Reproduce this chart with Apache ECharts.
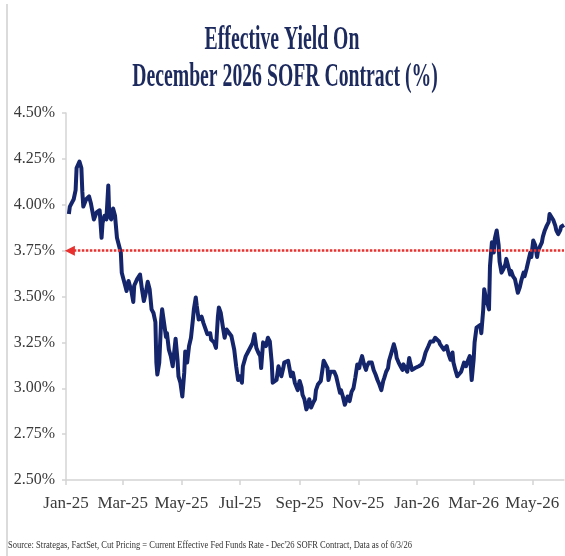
<!DOCTYPE html>
<html>
<head>
<meta charset="utf-8">
<script src="https://cdn.jsdelivr.net/npm/echarts@6/dist/echarts.min.js"></script>
<style>
  html, body { margin: 0; padding: 0; background: #ffffff; }
  #chart { width: 565px; height: 556px; }
</style>
</head>
<body>
<div id="chart"></div>
<script>
// Effective yield on the December 2026 SOFR contract, one row per month
const dates = [
  '2025-01-04','2025-01-05','2025-01-09','2025-01-11','2025-01-12','2025-01-15','2025-01-17','2025-01-18','2025-01-19','2025-01-22','2025-01-25','2025-01-27','2025-01-30','2025-01-31',
  '2025-02-02','2025-02-05','2025-02-07','2025-02-08','2025-02-10','2025-02-12','2025-02-14','2025-02-15','2025-02-17','2025-02-19','2025-02-21','2025-02-23','2025-02-25','2025-02-27','2025-02-28',
  '2025-03-02','2025-03-04','2025-03-05','2025-03-07','2025-03-10','2025-03-12','2025-03-13','2025-03-16','2025-03-19','2025-03-21','2025-03-23','2025-03-25','2025-03-27','2025-03-29','2025-03-31',
  '2025-04-02','2025-04-04','2025-04-05','2025-04-06','2025-04-08','2025-04-10','2025-04-11','2025-04-13','2025-04-15','2025-04-16','2025-04-18','2025-04-20','2025-04-22','2025-04-25','2025-04-27','2025-04-28','2025-04-30',
  '2025-05-02','2025-05-04','2025-05-05','2025-05-07','2025-05-09','2025-05-11','2025-05-13','2025-05-14','2025-05-16','2025-05-17','2025-05-19','2025-05-22','2025-05-24','2025-05-25','2025-05-28','2025-05-31',
  '2025-06-01','2025-06-04','2025-06-06','2025-06-08','2025-06-09','2025-06-11','2025-06-13','2025-06-15','2025-06-17','2025-06-19','2025-06-22','2025-06-25','2025-06-27','2025-06-29',
  '2025-07-01','2025-07-03','2025-07-04','2025-07-07','2025-07-09','2025-07-10','2025-07-11','2025-07-14','2025-07-16','2025-07-18','2025-07-20','2025-07-22','2025-07-23','2025-07-25','2025-07-27','2025-07-28','2025-07-30',
  '2025-08-01','2025-08-03','2025-08-04','2025-08-06','2025-08-08','2025-08-10','2025-08-11','2025-08-13','2025-08-15','2025-08-16','2025-08-18','2025-08-20','2025-08-22','2025-08-23','2025-08-25','2025-08-27','2025-08-29','2025-08-30',
  '2025-09-01','2025-09-03','2025-09-04','2025-09-06','2025-09-08','2025-09-10','2025-09-11','2025-09-13','2025-09-15','2025-09-17','2025-09-18','2025-09-20','2025-09-23','2025-09-25','2025-09-26','2025-09-28','2025-09-30',
  '2025-10-01','2025-10-03','2025-10-05','2025-10-07','2025-10-09','2025-10-11','2025-10-13','2025-10-14','2025-10-16','2025-10-18','2025-10-20','2025-10-21','2025-10-23','2025-10-25','2025-10-27','2025-10-29','2025-10-31',
  '2025-11-02','2025-11-03','2025-11-05','2025-11-07','2025-11-09','2025-11-10','2025-11-12','2025-11-13','2025-11-15','2025-11-17','2025-11-19','2025-11-21','2025-11-23','2025-11-25','2025-11-27','2025-11-28','2025-11-30',
  '2025-12-02','2025-12-03','2025-12-05','2025-12-07','2025-12-08','2025-12-10','2025-12-11','2025-12-13','2025-12-15','2025-12-17','2025-12-18','2025-12-20','2025-12-22','2025-12-24','2025-12-25','2025-12-27','2025-12-29','2025-12-30',
  '2026-01-01','2026-01-03','2026-01-05','2026-01-06','2026-01-08','2026-01-10','2026-01-12','2026-01-13','2026-01-15','2026-01-17','2026-01-18','2026-01-20','2026-01-22','2026-01-24','2026-01-25','2026-01-27','2026-01-29','2026-01-31',
  '2026-02-01','2026-02-03','2026-02-05','2026-02-07','2026-02-08','2026-02-10','2026-02-12','2026-02-14','2026-02-16','2026-02-18','2026-02-19','2026-02-21','2026-02-23','2026-02-25','2026-02-26','2026-02-27',
  '2026-03-01','2026-03-02','2026-03-04','2026-03-06','2026-03-08','2026-03-09','2026-03-11','2026-03-12','2026-03-14','2026-03-16','2026-03-17','2026-03-18','2026-03-20','2026-03-22','2026-03-23','2026-03-25','2026-03-27','2026-03-28','2026-03-30',
  '2026-04-01','2026-04-03','2026-04-04','2026-04-06','2026-04-08','2026-04-09','2026-04-11','2026-04-13','2026-04-15','2026-04-16','2026-04-18','2026-04-20','2026-04-22','2026-04-23','2026-04-25','2026-04-27','2026-04-29','2026-04-30',
  '2026-05-02','2026-05-04','2026-05-06','2026-05-07','2026-05-09','2026-05-11','2026-05-12','2026-05-14','2026-05-16','2026-05-18','2026-05-19','2026-05-21','2026-05-23','2026-05-25','2026-05-26','2026-05-28','2026-05-30','2026-05-31',
  '2026-06-03'
];

const yields = [
  3.95,3.99,4.03,4.08,4.20,4.235,4.20,4.07,3.99,4.03,4.045,4.005,3.92,3.91,
  3.96,3.97,3.82,3.90,3.94,3.92,4.105,3.94,3.92,3.98,3.94,3.82,3.78,3.74,3.63,
  3.59,3.55,3.53,3.585,3.53,3.47,3.56,3.595,3.62,3.54,3.475,3.52,3.58,3.54,3.43,
  3.41,3.36,3.14,3.075,3.14,3.375,3.43,3.42,3.28,3.30,3.21,3.175,3.12,3.27,3.155,3.065,3.03,
  2.955,3.085,3.20,3.14,3.23,3.275,3.375,3.43,3.495,3.45,3.375,3.39,3.355,3.34,3.295,3.30,
  3.265,3.25,3.22,3.39,3.44,3.41,3.34,3.275,3.32,3.33,3.285,3.21,3.12,3.045,
  3.065,3.03,3.12,3.175,3.195,3.185,3.20,3.245,3.295,3.22,3.195,3.175,3.11,3.25,3.255,3.23,3.275,
  3.255,3.14,3.03,3.02,3.045,3.12,3.13,3.065,3.11,3.14,3.14,3.15,3.14,3.065,3.085,3.03,3.02,2.99,
  3.04,3.005,2.965,2.94,2.885,2.91,2.94,2.895,2.92,2.94,2.99,3.02,3.04,3.11,3.15,3.13,3.11,
  3.045,3.09,3.085,3.09,3.065,3.02,2.975,2.99,2.955,2.91,2.94,2.955,2.93,2.98,3.00,3.06,3.13,
  3.11,3.14,3.175,3.13,3.10,3.12,3.14,3.15,3.14,3.10,3.075,3.045,3.02,2.99,3.04,3.055,3.09,
  3.11,3.15,3.185,3.195,3.24,3.20,3.165,3.14,3.12,3.10,3.13,3.12,3.09,3.165,3.14,3.10,3.09,3.11,
  3.12,3.12,3.11,3.13,3.155,3.195,3.195,3.23,3.255,3.265,3.255,3.275,3.285,3.255,3.24,3.245,3.21,3.20,
  3.23,3.185,3.155,3.195,3.14,3.10,3.065,3.065,3.09,3.10,3.14,3.12,3.15,3.175,3.12,3.045,
  3.155,3.25,3.33,3.32,3.345,3.30,3.43,3.54,3.485,3.45,3.43,3.665,3.795,3.74,3.815,3.86,3.78,3.69,3.63,
  3.65,3.675,3.705,3.665,3.62,3.64,3.61,3.595,3.585,3.52,3.55,3.595,3.63,3.61,3.65,3.64,3.74,3.715,
  3.805,3.78,3.715,3.75,3.76,3.795,3.825,3.86,3.885,3.905,3.95,3.96,3.915,3.885,3.86,3.84,3.86,3.88,
  3.89
];

// Current effective fed funds reference level (%)
const referenceLevel = 3.75;

// Axis ticks
const tickDates = ['2025-01-01','2025-03-01','2025-05-01','2025-07-01','2025-09-01','2025-11-01','2026-01-01','2026-03-01','2026-05-01'];
const tickLabels = ['Jan-25','Mar-25','May-25','Jul-25','Sep-25','Nov-25','Jan-26','Mar-26','May-26'];
const axisStart = '2025-01-01';
const axisEnd = '2026-06-03';
const refLineStart = '2025-01-05';

const titleLines = ['Effective Yield On', 'December 2026 SOFR Contract (%)'];
const sourceNote = "Source: Strategas, FactSet, Cut Pricing = Current Effective Fed Funds Rate - Dec'26 SOFR Contract, Data as of 6/3/26";

// local-time timestamp from 'YYYY-MM-DD'
function ts(s) {
  const p = s.split('-').map(Number);
  return new Date(p[0], p[1] - 1, p[2]).getTime();
}

const seriesData = dates.map((d, i) => [ts(d), yields[i]]);
const tickTimes = tickDates.map(ts);

const SERIF = "'Liberation Serif', 'Times New Roman', serif";
const NAVY = '#14256b';

const chart = echarts.init(document.getElementById('chart'), null, { renderer: 'canvas' });

chart.setOption({
  backgroundColor: '#ffffff',
  animation: false,
  grid: { left: 66, right: 1, top: 113, bottom: 76, containLabel: false },
  xAxis: {
    type: 'value',
    min: ts(axisStart),
    max: ts(axisEnd),
    axisLine: { show: true, lineStyle: { color: '#d4d4d4', width: 1.5 } },
    axisTick: { show: true, length: 5, lineStyle: { color: '#d4d4d4', width: 1.5 }, customValues: tickTimes },
    splitLine: { show: false },
    axisLabel: {
      customValues: tickTimes,
      margin: 15,
      fontFamily: SERIF,
      fontSize: 17,
      color: '#3a3a3a',
      formatter: function (v) {
        const i = tickTimes.indexOf(v);
        return i >= 0 ? tickLabels[i] : '';
      }
    }
  },
  yAxis: {
    type: 'value',
    min: 2.5,
    max: 4.5,
    interval: 0.25,
    axisLine: { show: true, lineStyle: { color: '#d4d4d4', width: 1.5 } },
    axisTick: { show: true, length: 4, lineStyle: { color: '#d4d4d4', width: 1.5 } },
    splitLine: { show: false },
    axisLabel: {
      margin: 11,
      fontFamily: SERIF,
      fontSize: 16,
      color: '#3a3a3a',
      formatter: v => v.toFixed(2) + '%'
    }
  },
  series: [{
    type: 'line',
    data: seriesData,
    showSymbol: false,
    symbol: 'none',
    lineStyle: { color: NAVY, width: 4, join: 'round' },
    markLine: {
      silent: true,
      animation: false,
      label: { show: false },
      lineStyle: { color: '#e8302e', width: 2.5, type: [2.5, 1.5] },
      data: [[
        { coord: [ts(refLineStart), referenceLevel], symbol: 'triangle', symbolSize: [10, 10] },
        { coord: [ts(axisEnd), referenceLevel], symbol: 'none' }
      ]]
    }
  }],
  graphic: [
    {
      type: 'line',
      shape: { x1: 7, y1: 4, x2: 7, y2: 556 },
      style: { stroke: '#cfcfcf', lineWidth: 1.5 },
      silent: true
    },
    {
      type: 'text',
      x: 282, y: 40,
      scaleX: 0.58,
      style: {
        text: titleLines[0], x: 0, y: 0,
        textAlign: 'center', textVerticalAlign: 'middle',
        font: 'bold 34px ' + SERIF, fill: '#1c2a5e'
      }
    },
    {
      type: 'text',
      x: 285, y: 77,
      scaleX: 0.58,
      style: {
        text: titleLines[1], x: 0, y: 0,
        textAlign: 'center', textVerticalAlign: 'middle',
        font: 'bold 34px ' + SERIF, fill: '#1c2a5e'
      }
    },
    {
      type: 'text',
      x: 8, y: 545,
      scaleX: 0.85,
      style: {
        text: sourceNote, x: 0, y: 0,
        textAlign: 'left', textVerticalAlign: 'middle',
        font: '10px ' + SERIF, fill: '#333333'
      }
    }
  ]
});
</script>
</body>
</html>
